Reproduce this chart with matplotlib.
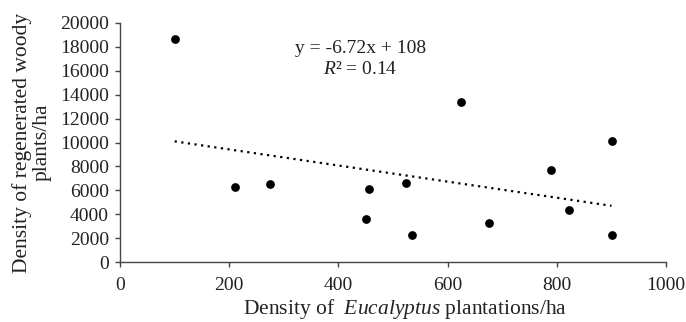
import numpy as np
import matplotlib
matplotlib.use('Agg')
import matplotlib.pyplot as plt

# Density of Eucalyptus plantations (trees/ha) vs regenerated woody plants/ha
eucalyptus_density = np.array([100, 211, 275, 456, 450, 524, 535, 625, 675, 789, 822, 900, 900])
woody_density = np.array([18640, 6260, 6540, 6090, 3590, 6590, 2280, 13400, 3280, 7730, 4390, 10100, 2280])

equation_text = 'y = -6.72x + 108'
r2_text = r'$R$² = 0.14'

x_ticks = [0, 200, 400, 600, 800, 1000]
y_ticks = list(range(0, 20001, 2000))

plt.rcParams['font.family'] = ['Liberation Serif', 'DejaVu Serif']
plt.rcParams['mathtext.fontset'] = 'custom'
plt.rcParams['mathtext.rm'] = 'Liberation Serif'
plt.rcParams['mathtext.it'] = 'Liberation Serif:italic'

text_color = '#222222'
axis_color = '#444444'

fig = plt.figure(figsize=(6.86, 3.22), dpi=100)
ax = fig.add_axes([0.175, 0.1854, 0.796, 0.744])

ax.plot(eucalyptus_density, woody_density, 'o', color='black', markersize=6.3,
        markeredgewidth=0)

# linear trend line
slope, intercept = np.polyfit(eucalyptus_density, woody_density, 1)
x_line = np.array([eucalyptus_density.min(), eucalyptus_density.max()])
ax.plot(x_line, slope * x_line + intercept, color='black', linestyle=(0, (1, 2)),
        linewidth=1.6)

ax.text(440, 17890, equation_text, ha='center', va='center', fontsize=14, color=text_color)
ax.text(440, 16130, r2_text, ha='center', va='center', fontsize=14, color=text_color)

ax.set_xlim(0, 1000)
ax.set_ylim(0, 20000)
ax.set_xticks(x_ticks)
ax.set_yticks(y_ticks)

for side in ['top', 'right']:
    ax.spines[side].set_visible(False)
for side in ['left', 'bottom']:
    ax.spines[side].set_color(axis_color)
    ax.spines[side].set_linewidth(1.0)

ax.tick_params(direction='out', length=3.6, width=1.0, color=axis_color,
               labelsize=14, labelcolor=text_color)
ax.tick_params(axis='x', pad=7)
ax.tick_params(axis='y', pad=4.5)

ax.set_xlabel(r'Density of  $\mathit{Eucalyptus}$ plantations/ha', fontsize=15.5,
              color=text_color, labelpad=2)
ax.xaxis.label.set_x(0.522)
ax.set_ylabel('Density of regenerated woody\nplants/ha', fontsize=15.5,
              color=text_color, labelpad=6, linespacing=1.0)

fig.savefig('out.png', dpi=100)
